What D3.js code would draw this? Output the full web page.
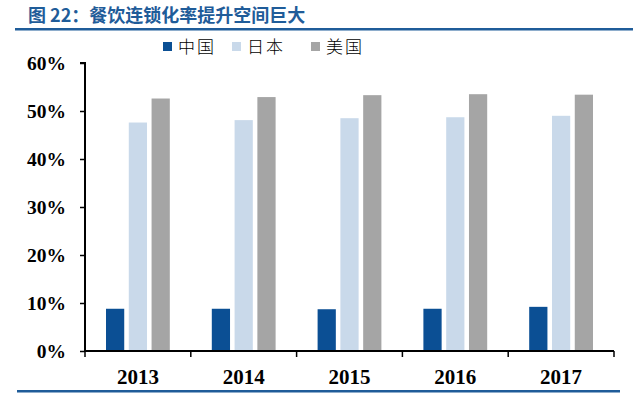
<!DOCTYPE html>
<html>
<head>
<meta charset="utf-8">
<script src="https://cdn.jsdelivr.net/npm/d3@7"></script>
<style>
body { margin: 0; background: #fff; }
</style>
</head>
<body>
<div id="chart_div"></div>
<script>
years = ['2013', '2014', '2015', '2016', '2017'];
seriesNames = ['中国', '日本', '美国'];
china = [8.8, 8.8, 8.7, 8.8, 9.2];
japan = [47.6, 48.1, 48.5, 48.7, 49.0];
usa = [52.6, 52.9, 53.3, 53.5, 53.4];
yTicks = [0, 10, 20, 30, 40, 50, 60];
colors = ['#0b4f94', '#c9d9ea', '#a5a5a5'];

w = 640;
h = 395;
serif = '"Liberation Serif", "Times New Roman", serif';
cjk = '"Noto Sans CJK SC", sans-serif';

svg = d3.select('#chart_div')
  .append('svg')
  .attr('width', w)
  .attr('height', h)
  .attr('display', 'block');

// title + rules
svg.append('text')
  .attr('x', 28)
  .attr('y', 22)
  .attr('fill', '#1f5c99')
  .attr('font-family', cjk)
  .attr('font-weight', 'bold')
  .attr('font-size', 18)
  .text('图 22：餐饮连锁化率提升空间巨大');

svg.append('rect')
  .attr('x', 15).attr('y', 28)
  .attr('width', 618).attr('height', 2.5)
  .attr('fill', '#1f5c99');

svg.append('rect')
  .attr('x', 17).attr('y', 390)
  .attr('width', 603).attr('height', 2.5)
  .attr('fill', '#1f5c99');

x0 = d3.scaleBand().domain(years).range([85, 614]).paddingInner(0).paddingOuter(0);
x1 = d3.scaleBand().domain(seriesNames).range([21, x0.bandwidth() - 21]).paddingInner(0.2);
y = d3.scaleLinear().domain([0, 60]).range([351, 63]);

series = [china, japan, usa];

g = svg.append('g');
series.forEach(function (vals, si) {
  g.selectAll('.bar' + si)
    .data(vals)
    .enter()
    .append('rect')
    .attr('x', function (d, i) { return x0(years[i]) + x1(seriesNames[si]); })
    .attr('y', function (d) { return y(d); })
    .attr('width', x1.bandwidth())
    .attr('height', function (d) { return y(0) - y(d); })
    .attr('fill', colors[si]);
});

// y axis
yAxis = svg.append('g')
  .attr('transform', 'translate(85,0)')
  .call(d3.axisLeft(y).tickValues(yTicks).tickSize(5).tickPadding(14)
    .tickFormat(function (d) { return d + '%'; }));
yAxis.select('.domain').attr('stroke', '#000').attr('stroke-width', 2)
  .attr('d', 'M-5,' + y(60) + 'H0V' + y(0));
yAxis.selectAll('.tick line').attr('stroke', '#000').attr('stroke-width', 1.5);
yAxis.selectAll('text')
  .attr('font-family', serif)
  .attr('font-weight', 'bold')
  .attr('font-size', 19.5)
  .attr('fill', '#000');

// x axis with ticks at category boundaries
xAxis = svg.append('g').attr('transform', 'translate(0,' + y(0) + ')');
xAxis.append('line')
  .attr('x1', 85).attr('x2', 614)
  .attr('stroke', '#000').attr('stroke-width', 2);
boundaries = years.map(function (d) { return x0(d); }).concat([x0.range()[1]]);
xAxis.selectAll('.xtick')
  .data(boundaries)
  .enter()
  .append('line')
  .attr('x1', function (d) { return d; })
  .attr('x2', function (d) { return d; })
  .attr('y1', 0).attr('y2', 6)
  .attr('stroke', '#000').attr('stroke-width', 1.5);
xAxis.selectAll('.xlab')
  .data(years)
  .enter()
  .append('text')
  .attr('x', function (d) { return x0(d) + x0.bandwidth() / 2; })
  .attr('y', 33)
  .attr('text-anchor', 'middle')
  .attr('font-family', serif)
  .attr('font-weight', 'bold')
  .attr('font-size', 21)
  .text(function (d) { return d; });

// legend
legendX = [163, 232, 311];
leg = svg.selectAll('.leg')
  .data(seriesNames)
  .enter()
  .append('g')
  .attr('transform', function (d, i) { return 'translate(' + legendX[i] + ',40)'; });
leg.append('rect')
  .attr('width', 9).attr('height', 9)
  .attr('y', 2)
  .attr('fill', function (d, i) { return colors[i]; });
leg.append('text')
  .attr('x', 15)
  .attr('y', 13)
  .attr('font-family', cjk)
  .attr('font-weight', 300)
  .attr('font-size', 17)
  .attr('letter-spacing', 2)
  .text(function (d) { return d; });
</script>
</body>
</html>
